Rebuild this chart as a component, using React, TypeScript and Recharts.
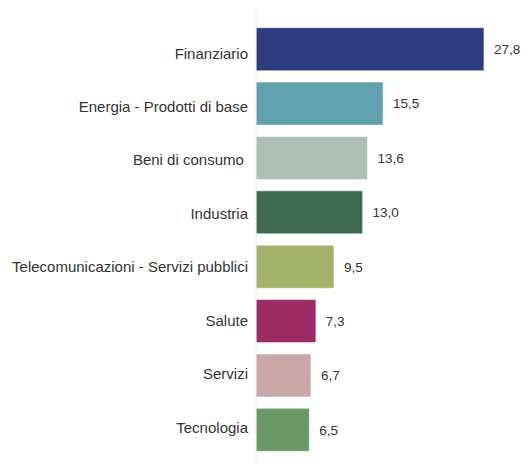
import React from "react";
import { BarChart, Bar, XAxis, YAxis, Cell, LabelList } from "recharts";

const categories = [
  "Finanziario",
  "Energia - Prodotti di base",
  "Beni di consumo ",
  "Industria",
  "Telecomunicazioni - Servizi pubblici",
  "Salute",
  "Servizi",
  "Tecnologia",
];
const values = [27.8, 15.5, 13.6, 13.0, 9.5, 7.3, 6.7, 6.5];
const colors = [
  "#2e3d80",
  "#5fa1ae",
  "#abbfb5",
  "#3e6b4f",
  "#a3b067",
  "#9c2b63",
  "#cba6a6",
  "#6a9966",
];

const data = categories.map((c, i) => ({ name: c, value: values[i] }));

const fmt = (v: any) => Number(v).toFixed(1).replace(".", ",");

const CatTick = (props: any) => {
  const { x, y, payload, index } = props;
  const shift = 4 - 0.93 * (index ?? 0);
  return (
    <text
      x={x}
      y={y + shift}
      dy="0.355em"
      textAnchor="end"
      fill="#333333"
      fontSize={15}
      style={{ whiteSpace: "pre" }}
    >
      {payload.value}
    </text>
  );
};

export default function App() {
  return (
    <div style={{ position: "absolute", left: 0, top: 0, fontFamily: "Liberation Sans, Arial, sans-serif" }}>
      <BarChart
        width={526}
        height={464}
        data={data}
        layout="vertical"
        margin={{ top: 9, right: 24, bottom: 0, left: 0 }}
        barCategoryGap="10.5%"
      >
        <XAxis type="number" domain={[0, 30]} hide />
        <YAxis
          type="category"
          dataKey="name"
          width={256}
          axisLine={{ stroke: "#e3e3e3" }}
          tickLine={false}
          tickMargin={2}
          padding={{ top: 13, bottom: 7 }}
          tick={<CatTick />}
          interval={0}
        />
        <Bar dataKey="value" isAnimationActive={false} stroke="#ffffff" strokeOpacity={0.5}>
          {data.map((d, i) => (
            <Cell key={i} fill={colors[i]} />
          ))}
          <LabelList
            dataKey="value"
            position="right"
            offset={10}
            formatter={fmt}
            style={{ fill: "#333333", fontSize: 13.5 }}
          />
        </Bar>
      </BarChart>
    </div>
  );
}
